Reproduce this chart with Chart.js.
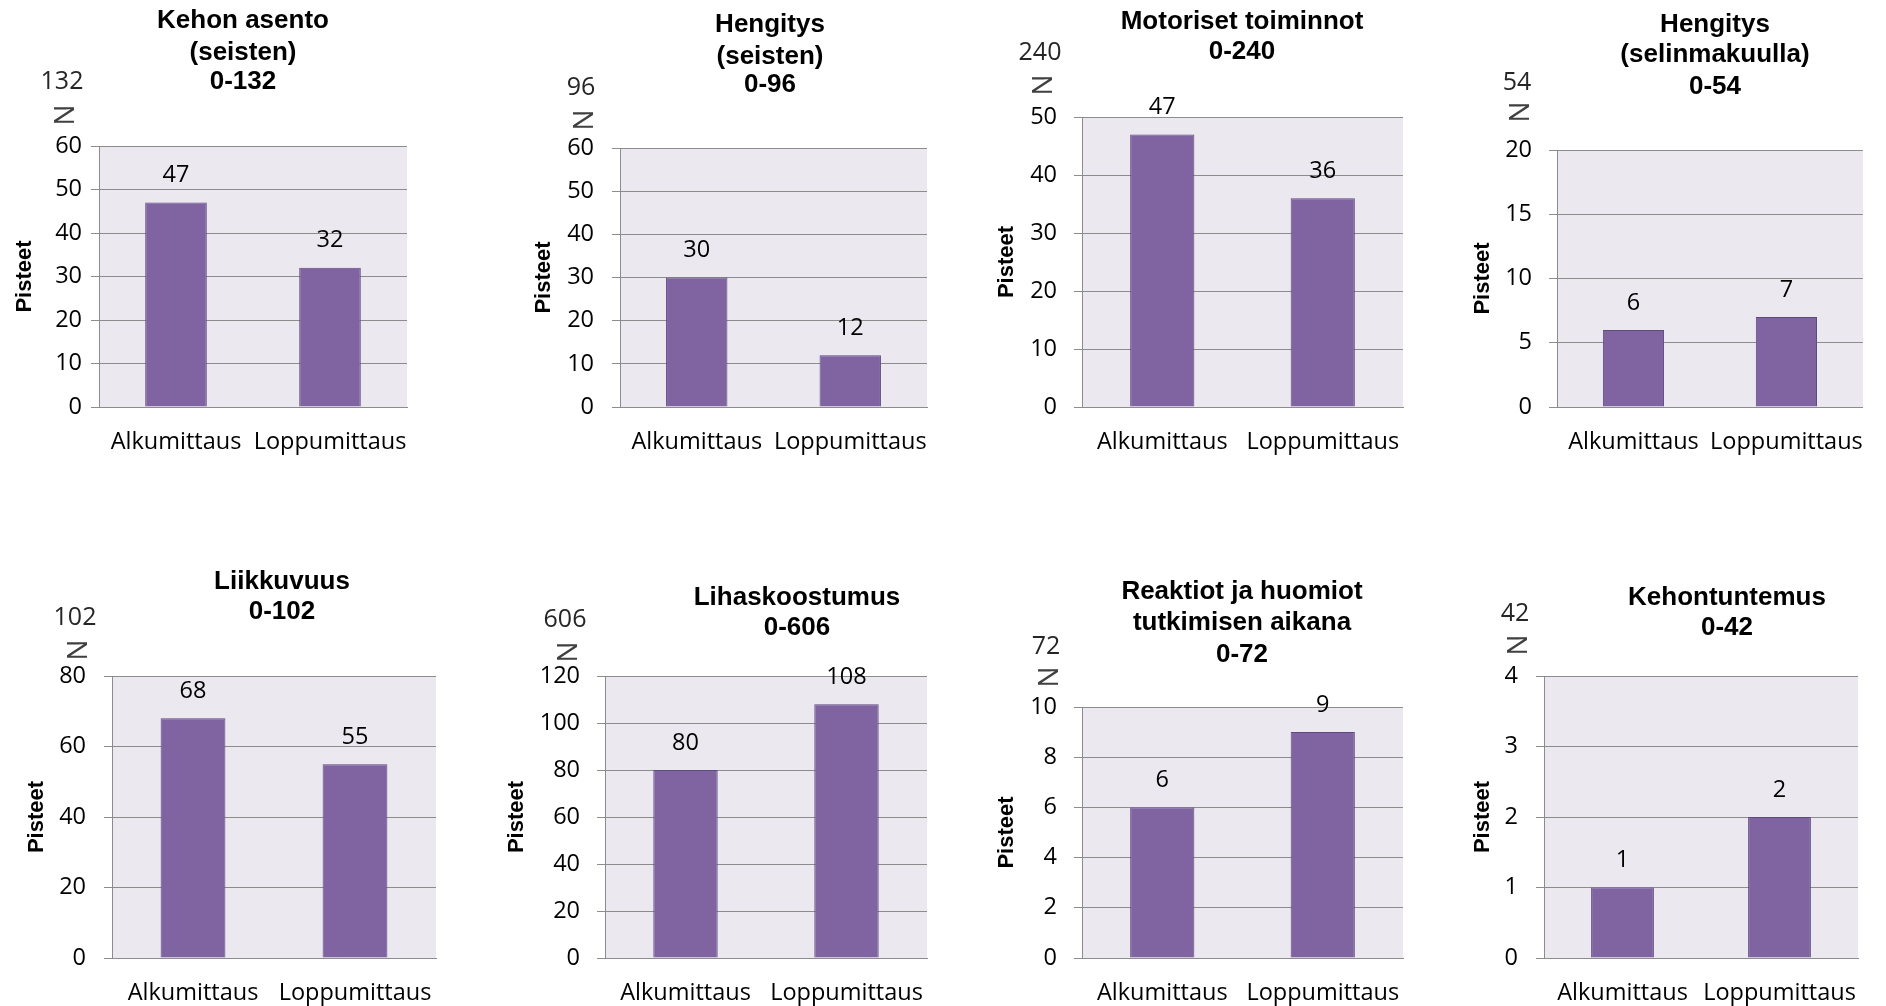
<!DOCTYPE html>
<html>
<head>
<meta charset="utf-8">
<title>Pisteet – alku- ja loppumittaus</title>
<script src="https://cdn.jsdelivr.net/npm/chart.js@4/dist/chart.umd.min.js"></script>
<style>
  html, body { margin: 0; padding: 0; background: #ffffff; }
  #board { position: relative; width: 1886px; height: 1006px; overflow: hidden; }
  #board canvas { position: absolute; left: 0; top: 0; }
</style>
</head>
<body>
<div id="board"></div>
<script>
// ---- data ----
const categories = ['Alkumittaus', 'Loppumittaus'];
const panelTitles = [
  ['Kehon asento', '(seisten)'],
  ['Hengitys', '(seisten)'],
  ['Motoriset toiminnot'],
  ['Hengitys', '(selinmakuulla)'],
  ['Liikkuvuus'],
  ['Lihaskoostumus'],
  ['Reaktiot ja huomiot', 'tutkimisen aikana'],
  ['Kehontuntemus']
];
const maxScores    = [132, 96, 240, 54, 102, 606, 72, 42];
const alkumittaus  = [47, 30, 47, 6, 68, 80, 6, 1];
const loppumittaus = [32, 12, 36, 7, 55, 108, 9, 2];
const axisMax      = [60, 60, 50, 20, 80, 120, 10, 4];
const axisStep     = [10, 10, 10, 5, 20, 20, 2, 1];
const axisTitle    = 'Pisteet';

// ---- page layout of each panel (plot box in page pixels, text anchors) ----
const frames = [
  { plot: [99, 146, 407, 407],    titleX: 243,  titleY: [21, 53, 82],    noteX: 62,   noteY: 82,  signY: 115, axisTitleX: 25,   tickGap: 9 },
  { plot: [620, 148, 927, 407],   titleX: 770,  titleY: [25, 57, 85],    noteX: 581,  noteY: 88,  signY: 120, axisTitleX: 544,  tickGap: 18 },
  { plot: [1082, 117, 1403, 407], titleX: 1242, titleY: [22, 52],        noteX: 1040, noteY: 53,  signY: 85,  axisTitleX: 1007, tickGap: 17 },
  { plot: [1557, 150, 1877, 407], titleX: 1715, titleY: [25, 55, 87],    noteX: 1517, noteY: 83,  signY: 112, axisTitleX: 1483, tickGap: 17 },
  { plot: [112, 676, 436, 958],   titleX: 282,  titleY: [582, 612],      noteX: 75,   noteY: 618, signY: 650, axisTitleX: 37,   tickGap: 18 },
  { plot: [605, 676, 927, 958],   titleX: 797,  titleY: [598, 628],      noteX: 565,  noteY: 620, signY: 652, axisTitleX: 517,  tickGap: 17 },
  { plot: [1082, 707, 1403, 958], titleX: 1242, titleY: [592, 623, 655], noteX: 1046, noteY: 647, signY: 677, axisTitleX: 1007, tickGap: 17 },
  { plot: [1544, 676, 1858, 958], titleX: 1727, titleY: [598, 628],      noteX: 1515, noteY: 614, signY: 645, axisTitleX: 1483, tickGap: 18 }
];

const PAGE_W = 1886, PAGE_H = 1006;
const X_AXIS_H = 48;
const SANS = '"Open Sans", "Noto Sans", sans-serif';
const BODY_FONT = { family: SANS, size: 23.5 };
const BOLD_FAMILY = '"Liberation Sans", Arial, sans-serif';
const GRID = '#8c8c8c';
const PLOT_BG = '#ebe8f0';
const BAR_FILL = '#8064a2';
const BAR_EDGE = '#5f4a80';
const AXIS_TITLE_SIZE = 22;

// fills the plotting rectangle behind grid and bars
const plotBackground = {
  id: 'plotBackground',
  beforeDraw(chart) {
    const { ctx, chartArea: a } = chart;
    ctx.save();
    ctx.fillStyle = PLOT_BG;
    ctx.fillRect(a.left, a.top, a.right - a.left, a.bottom - a.top);
    ctx.restore();
  }
};

// value printed above each bar
const valueLabels = {
  id: 'valueLabels',
  afterDatasetsDraw(chart) {
    const { ctx } = chart;
    const meta = chart.getDatasetMeta(0);
    const values = chart.data.datasets[0].data;
    ctx.save();
    ctx.font = `${BODY_FONT.size}px ${SANS}`;
    ctx.fillStyle = '#000000';
    ctx.textAlign = 'center';
    ctx.textBaseline = 'middle';
    meta.data.forEach((bar, k) => {
      ctx.fillText(String(values[k]), bar.x, bar.y - 27);
    });
    ctx.restore();
  }
};

// panel heading and the maximum-score note with the rotated N
const panelText = {
  id: 'panelText',
  afterDraw(chart, args, opts) {
    const { ctx } = chart;
    ctx.save();
    ctx.textAlign = 'center';
    ctx.textBaseline = 'middle';
    ctx.fillStyle = '#000000';
    ctx.font = `bold 26px ${BOLD_FAMILY}`;
    opts.lines.forEach((line, k) => ctx.fillText(line, opts.x, opts.ys[k]));

    ctx.font = `25px ${SANS}`;
    ctx.fillStyle = '#262626';
    ctx.fillText(opts.note, opts.noteX, opts.noteY);

    ctx.font = `28px ${SANS}`;
    ctx.fillStyle = '#404040';
    ctx.translate(opts.noteX, opts.signY);
    ctx.rotate(Math.PI / 2);
    ctx.fillText('N', 0, 0);
    ctx.restore();
  }
};

function buildPanel(i) {
  const f = frames[i];
  const [x0, y0, x1, y1] = f.plot;
  const titleHalf = AXIS_TITLE_SIZE * 1.2 / 2;
  const yAxisWidth = x0 - (f.axisTitleX - titleHalf);

  const canvas = document.createElement('canvas');
  canvas.width = PAGE_W;
  canvas.height = PAGE_H;
  document.getElementById('board').appendChild(canvas);

  return new Chart(canvas, {
    type: 'bar',
    data: {
      labels: categories,
      datasets: [{
        data: [alkumittaus[i], loppumittaus[i]],
        backgroundColor: BAR_FILL,
        borderColor: BAR_EDGE,
        borderWidth: 1,
        categoryPercentage: 1,
        barPercentage: 0.4
      }]
    },
    options: {
      responsive: false,
      animation: false,
      events: [],
      layout: {
        padding: {
          left: x0 - yAxisWidth,
          top: y0,
          right: PAGE_W - x1,
          bottom: Math.max(0, PAGE_H - y1 - X_AXIS_H)
        }
      },
      plugins: {
        legend: { display: false },
        tooltip: { enabled: false },
        title: { display: false },
        panelText: {
          lines: panelTitles[i].concat('0-' + maxScores[i]),
          x: f.titleX,
          ys: f.titleY,
          note: String(maxScores[i]),
          noteX: f.noteX,
          noteY: f.noteY,
          signY: f.signY
        }
      },
      scales: {
        x: {
          grid: { display: false, drawTicks: false },
          border: { display: true, color: GRID, width: 1 },
          ticks: { color: '#000000', font: BODY_FONT, padding: 21, maxRotation: 0, autoSkip: false },
          afterFit(scale) { scale.height = X_AXIS_H; }
        },
        y: {
          min: 0,
          max: axisMax[i],
          grid: { color: GRID, lineWidth: 1, drawTicks: true, tickLength: 8 },
          border: { display: true, color: GRID, width: 1 },
          ticks: { stepSize: axisStep[i], color: '#000000', font: BODY_FONT, padding: f.tickGap },
          title: {
            display: true,
            text: axisTitle,
            color: '#000000',
            padding: 0,
            font: { family: BOLD_FAMILY, size: AXIS_TITLE_SIZE, weight: 'bold' }
          },
          afterFit(scale) { scale.width = yAxisWidth; }
        }
      }
    },
    plugins: [plotBackground, valueLabels, panelText]
  });
}

function drawAll() {
  for (let i = 0; i < frames.length; i++) buildPanel(i);
}

Promise.all([
  document.fonts.load('23px "Open Sans"'),
  document.fonts.load('bold 26px "Liberation Sans"')
]).then(drawAll, drawAll);
</script>
</body>
</html>
